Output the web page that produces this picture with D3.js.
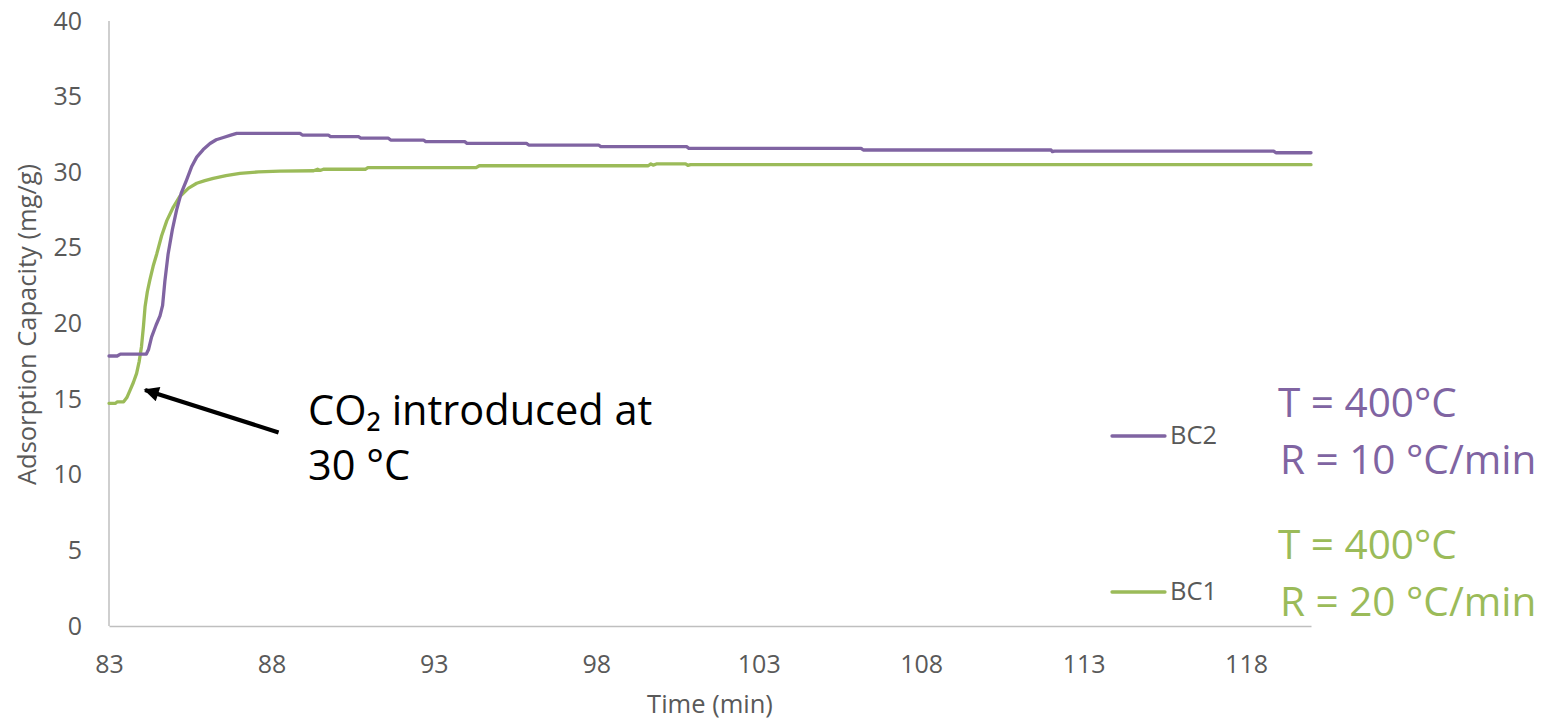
<!DOCTYPE html>
<html>
<head>
<meta charset="utf-8">
<script src="https://cdn.jsdelivr.net/npm/d3@7"></script>
<style>
  html, body { margin: 0; padding: 0; background: #fff; }
  svg { display: block; font-family: "Open Sans", sans-serif; }
</style>
</head>
<body>
<svg id="chart" width="1559" height="721"></svg>
<script>
// ---------- data ----------
const xTicks = [83, 88, 93, 98, 103, 108, 113, 118];
const yTicks = [0, 5, 10, 15, 20, 25, 30, 35, 40];

const bc2Time = [83.0, 83.25, 83.35, 84.15, 84.22, 84.31, 84.45, 84.57, 84.65, 84.72, 84.82, 84.95, 85.08, 85.22, 85.39, 85.55, 85.70, 85.9, 86.11, 86.3, 86.52, 86.75, 86.93, 88.88, 88.95, 89.75, 89.82, 90.68, 90.75, 91.6, 91.67, 92.68, 92.75, 93.95, 94.02, 95.85, 95.92, 98.07, 98.14, 100.78, 100.85, 106.15, 106.22, 112.0, 112.04, 112.1, 118.85, 118.92, 120.0];
const bc2Value = [17.85, 17.85, 17.98, 17.98, 18.3, 19.1, 19.9, 20.5, 21.2, 22.8, 24.6, 26.2, 27.5, 28.6, 29.5, 30.4, 31.0, 31.5, 31.9, 32.15, 32.3, 32.45, 32.57, 32.57, 32.46, 32.46, 32.35, 32.35, 32.25, 32.25, 32.13, 32.13, 32.02, 32.02, 31.91, 31.91, 31.80, 31.80, 31.69, 31.69, 31.58, 31.58, 31.47, 31.47, 31.36, 31.40, 31.40, 31.29, 31.29];

const bc1Time = [83.0, 83.2, 83.25, 83.45, 83.55, 83.65, 83.75, 83.85, 83.93, 84.0, 84.06, 84.11, 84.18, 84.26, 84.36, 84.47, 84.62, 84.78, 84.98, 85.18, 85.45, 85.7, 85.95, 86.21, 86.6, 87.03, 87.6, 88.26, 89.3, 89.42, 89.5, 89.6, 90.9, 90.97, 94.3, 94.4, 99.6, 99.68, 99.75, 99.85, 100.75, 100.82, 100.9, 120.0];
const bc1Value = [14.72, 14.72, 14.82, 14.82, 15.1, 15.6, 16.1, 16.7, 17.5, 18.47, 19.8, 21.1, 22.1, 22.9, 23.8, 24.6, 25.8, 26.8, 27.7, 28.4, 28.95, 29.27, 29.45, 29.6, 29.78, 29.93, 30.02, 30.08, 30.1, 30.2, 30.12, 30.2, 30.2, 30.3, 30.3, 30.43, 30.43, 30.55, 30.47, 30.55, 30.55, 30.45, 30.5, 30.5];

const seriesNames = ["BC2", "BC1"];
const noteLines = [["T = 400°C", "R = 10 °C/min"], ["T = 400°C", "R = 20 °C/min"]];
const annotationLines = ["CO₂ introduced at", "30 °C"];
// arrow annotation in data units: tip, tail
const arrowTip = [84.11, 15.6];
const arrowTail = [88.22, 12.8];

// ---------- layout ----------
const purple = "#8064A2", green = "#9BBB59", textGray = "#595959", axisGray = "#BFBFBF";
const svg = d3.select("#chart");
const x = d3.scaleLinear().domain([83, 120]).range([109, 1311]);
const y = d3.scaleLinear().domain([0, 40]).range([626, 21]);

// axes
const xAxis = svg.append("g").attr("transform", `translate(0,${y(0)})`)
  .call(d3.axisBottom(x).tickValues(xTicks).tickSize(0).tickPadding(29).tickFormat(d3.format("d")));
const yAxis = svg.append("g").attr("transform", `translate(${x(83)},0)`)
  .call(d3.axisLeft(y).tickValues(yTicks).tickSize(0).tickPadding(27).tickFormat(d3.format("d")));
[xAxis, yAxis].forEach(g => {
  g.select(".domain").attr("stroke", axisGray).attr("stroke-width", 1.5);
  g.selectAll("text").attr("fill", textGray).style("font-size", "25px").style("font-family", "'Open Sans', sans-serif");
});
yAxis.select(".domain").remove();
yAxis.append("line").attr("x1", 0).attr("x2", 0).attr("y1", y(40)).attr("y2", y(0))
  .attr("stroke", axisGray).attr("stroke-width", 1.5);

// axis titles
svg.append("text").attr("x", (x(83) + x(120)) / 2).attr("y", 713).attr("text-anchor", "middle")
  .attr("fill", textGray).style("font-size", "25.5px").text("Time (min)");
svg.append("text").attr("transform", `translate(36,${(y(0) + y(40)) / 2 + 1}) rotate(-90)`)
  .attr("text-anchor", "middle").attr("fill", textGray).style("font-size", "25.5px")
  .text("Adsorption Capacity (mg/g)");

// lines
const line = d3.line().x(d => x(d[0])).y(d => y(d[1]));
const bc2 = bc2Time.map((t, i) => [t, bc2Value[i]]);
const bc1 = bc1Time.map((t, i) => [t, bc1Value[i]]);
[[bc1, green], [bc2, purple]].forEach(([data, col]) => {
  svg.append("path").datum(data).attr("d", line).attr("fill", "none")
    .attr("stroke", col).attr("stroke-width", 3.3)
    .attr("stroke-linejoin", "round").attr("stroke-linecap", "round");
});

// legend
const legendY = [436, 592];
const legendCols = [purple, green];
seriesNames.forEach((name, i) => {
  svg.append("line").attr("x1", 1112).attr("x2", 1165).attr("y1", legendY[i]).attr("y2", legendY[i])
    .attr("stroke", legendCols[i]).attr("stroke-width", 3.3).attr("stroke-linecap", "round");
  svg.append("text").attr("x", 1170).attr("y", legendY[i] + 8).attr("fill", textGray)
    .style("font-size", "25.5px").text(name);
});

// right-hand notes (one text element per note, two lines each)
const noteBase = [417, 559];
noteLines.forEach((lines, i) => {
  const t = svg.append("text").attr("y", noteBase[i]).attr("fill", legendCols[i]).style("font-size", "40.5px");
  lines.forEach((s, j) => {
    t.append("tspan").attr("x", j === 0 ? 1278 : 1280).attr("dy", j === 0 ? 0 : 56.5).text(s);
  });
});

// annotation arrow
svg.append("defs").append("marker").attr("id", "ah").attr("viewBox", "0 0 10 10")
  .attr("refX", 9).attr("refY", 5).attr("markerWidth", 4.2).attr("markerHeight", 3.6)
  .attr("markerUnits", "strokeWidth").attr("orient", "auto")
  .append("path").attr("d", "M0,0 L10,5 L0,10 Z").attr("fill", "#000");
svg.append("line")
  .attr("x1", x(arrowTail[0])).attr("y1", y(arrowTail[1]))
  .attr("x2", x(arrowTip[0])).attr("y2", y(arrowTip[1]))
  .attr("stroke", "#000").attr("stroke-width", 4.2).attr("marker-end", "url(#ah)");

const note = svg.append("text").attr("y", 425).attr("fill", "#000").style("font-size", "41.5px");
annotationLines.forEach((s, j) => {
  note.append("tspan").attr("x", 308).attr("dy", j === 0 ? 0 : 55).text(s);
});
</script>
</body>
</html>
